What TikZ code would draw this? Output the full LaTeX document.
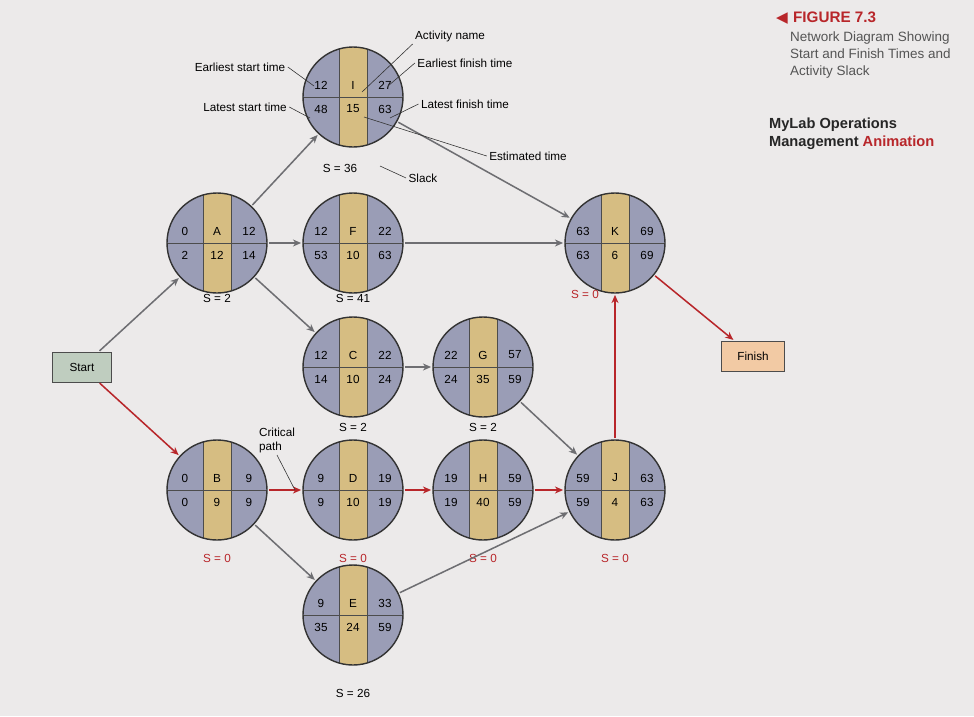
\documentclass[tikz,border=0pt]{standalone}
\usepackage{fontspec}
\setmainfont{Liberation Sans}
\usetikzlibrary{arrows.meta}
\definecolor{disc}{HTML}{9A9DB6}
\definecolor{band}{HTML}{D6BD82}
\definecolor{crit}{HTML}{B8262A}
\definecolor{edge}{HTML}{6E6E72}
\definecolor{paper}{HTML}{ECEAEA}
\definecolor{capgrey}{HTML}{555555}
\tikzset{
  act/.style={circle,draw=black!80,line width=1.2pt,fill=disc,minimum size=3cm,inner sep=0pt,
    path picture={\fill[band] ([xshift=-0.42cm]path picture bounding box.north) rectangle ([xshift=0.42cm]path picture bounding box.south);
      \draw[black!70,line width=0.5pt] ([xshift=-0.42cm]path picture bounding box.north) -- ([xshift=-0.42cm]path picture bounding box.south)
        ([xshift=0.42cm]path picture bounding box.north) -- ([xshift=0.42cm]path picture bounding box.south)
        (path picture bounding box.west) -- (path picture bounding box.east);}},
  num/.style={font=\fontsize{10}{12}\selectfont,inner sep=1pt},
  lbl/.style={font=\fontsize{10}{12}\selectfont,inner sep=2pt},
  lead/.style={black!80,line width=0.5pt},
  gar/.style={edge,line width=1.3pt,-{Stealth[length=7pt,width=6pt]},shorten <=1pt,shorten >=1pt},
  rar/.style={crit,line width=1.3pt,-{Stealth[length=7pt,width=6pt]},shorten <=1pt,shorten >=1pt},
  boxn/.style={draw=black!70,line width=0.6pt,minimum width=1.75cm,minimum height=0.9cm,font=\fontsize{10}{12}\selectfont},
  slk/.style={font=\fontsize{10}{12}\selectfont},
}
\newcommand\act[8]{%
  \node[act] (#1) at (#2) {};
  \node[num] (#1a) at ([shift={(-32,-12)}]#1.center) {#3};
  \node[num] (#1b) at ([shift={(0,-12)}]#1.center) {#4};
  \node[num] (#1c) at ([shift={(32,-12)}]#1.center) {#5};
  \node[num] (#1d) at ([shift={(-32,12)}]#1.center) {#6};
  \node[num] (#1e) at ([shift={(0,12)}]#1.center) {#7};
  \node[num] (#1f) at ([shift={(32,12)}]#1.center) {#8};}
\begin{document}
\begin{tikzpicture}[x=0.03cm,y=-0.03cm]
\fill[paper] (0,0) rectangle (974,716);
\useasboundingbox (0,0) rectangle (974,716);
\act{I}{353,97}{12}{I}{27}{48}{15}{63}
\act{A}{217,243}{0}{A}{12}{2}{12}{14}
\act{F}{353,243}{12}{F}{22}{53}{10}{63}
\act{K}{615,243}{63}{K}{69}{63}{6}{69}
\act{C}{353,367}{12}{C}{22}{14}{10}{24}
\act{G}{483,367}{22}{G}{57}{24}{35}{59}
\act{B}{217,490}{0}{B}{9}{0}{9}{9}
\act{D}{353,490}{9}{D}{19}{9}{10}{19}
\act{H}{483,490}{19}{H}{59}{19}{40}{59}
\act{J}{615,490}{59}{J}{63}{59}{4}{63}
\act{E}{353,615}{9}{E}{33}{35}{24}{59}
% slacks
\node[slk] (sI) at (340,168) {S = 36};
\node[slk] (sA) at (217,298) {S = 2};
\node[slk] (sF) at (353,298) {S = 41};
\node[slk,text=crit] (sK) at (585,294) {S = 0};
\node[slk] (sC) at (353,427) {S = 2};
\node[slk] (sG) at (483,427) {S = 2};
\node[slk,text=crit] (sB) at (217,558) {S = 0};
\node[slk,text=crit] (sD) at (353,558) {S = 0};
\node[slk,text=crit] (sH) at (483,558) {S = 0};
\node[slk,text=crit] (sJ) at (615,558) {S = 0};
\node[slk] (sE) at (353,693) {S = 26};
% boxes
\node[boxn,fill=green!12!gray!45] (start) at (82,367) {Start};
\node[boxn,fill=orange!30!paper,minimum width=1.9cm] (finish) at (753,356) {Finish};
% edges
\draw[gar] (start) -- (A);
\draw[gar] (A) -- (I);
\draw[gar] (A) -- (F);
\draw[gar] (A) -- (C);
\draw[gar] (I) -- (K);
\draw[gar] (F) -- (K);
\draw[gar] (C) -- (G);
\draw[gar] (G) -- (J);
\draw[gar] (B) -- (E);
\draw[gar] (E) -- (J);
\draw[rar] (start) -- (B);
\draw[rar] (B) -- (D);
\draw[rar] (D) -- (H);
\draw[rar] (H) -- (J);
\draw[rar] (J) -- (K);
\draw[rar] (K) -- (finish);
% annotation labels
\node[lbl] (tES) at (240,67) {Earliest start time};
\node[lbl] (tLS) at (245,107) {Latest start time};
\node[lbl] (tAN) at (450,36) {Activity name};
\node[lbl] (tEF) at (465,63) {Earliest finish time};
\node[lbl] (tLF) at (465,104) {Latest finish time};
\node[lbl] (tET) at (528,156) {Estimated time};
\node[lbl] (tSl) at (423,178) {Slack};
\node[lbl,align=left] (tCP) at (277,440) {Critical\\path};
\coordinate (pES) at (314,86);
\coordinate (pLS) at (310,118);
\coordinate (pAN) at (362,92);
\coordinate (pEF) at (388,86);
\coordinate (pLF) at (390,118);
\coordinate (pET) at (364,117);
\coordinate (pSl) at (380,166);
\coordinate (pCP) at (295,490);
\draw[lead] (tES.east) -- (pES);
\draw[lead] (tLS.east) -- (pLS);
\draw[lead] (tAN.south west) -- (pAN);
\draw[lead] (tEF.west) -- (pEF);
\draw[lead] (tLF.west) -- (pLF);
\draw[lead] (tET.west) -- (pET);
\draw[lead] (tSl.west) -- (pSl);
\draw[lead] (tCP.south) -- (pCP);
% caption
\node[anchor=west,text=crit,font=\fontsize{13}{15}\selectfont\bfseries] (fig) at (772,18) {\fontspec{DejaVu Sans}◀\ \normalfont\bfseries FIGURE 7.3};
\node[anchor=north west,text=capgrey,align=left,font=\fontsize{11.5}{14.5}\selectfont] (cap) at (786,28) {Network Diagram Showing\\Start and Finish Times and\\Activity Slack};
\node[anchor=north west,align=left,text=black!85,font=\fontsize{12.5}{15}\selectfont\bfseries] (ml) at (765,114) {MyLab Operations\\Management \textcolor{crit}{Animation}};
\end{tikzpicture}
\end{document}
